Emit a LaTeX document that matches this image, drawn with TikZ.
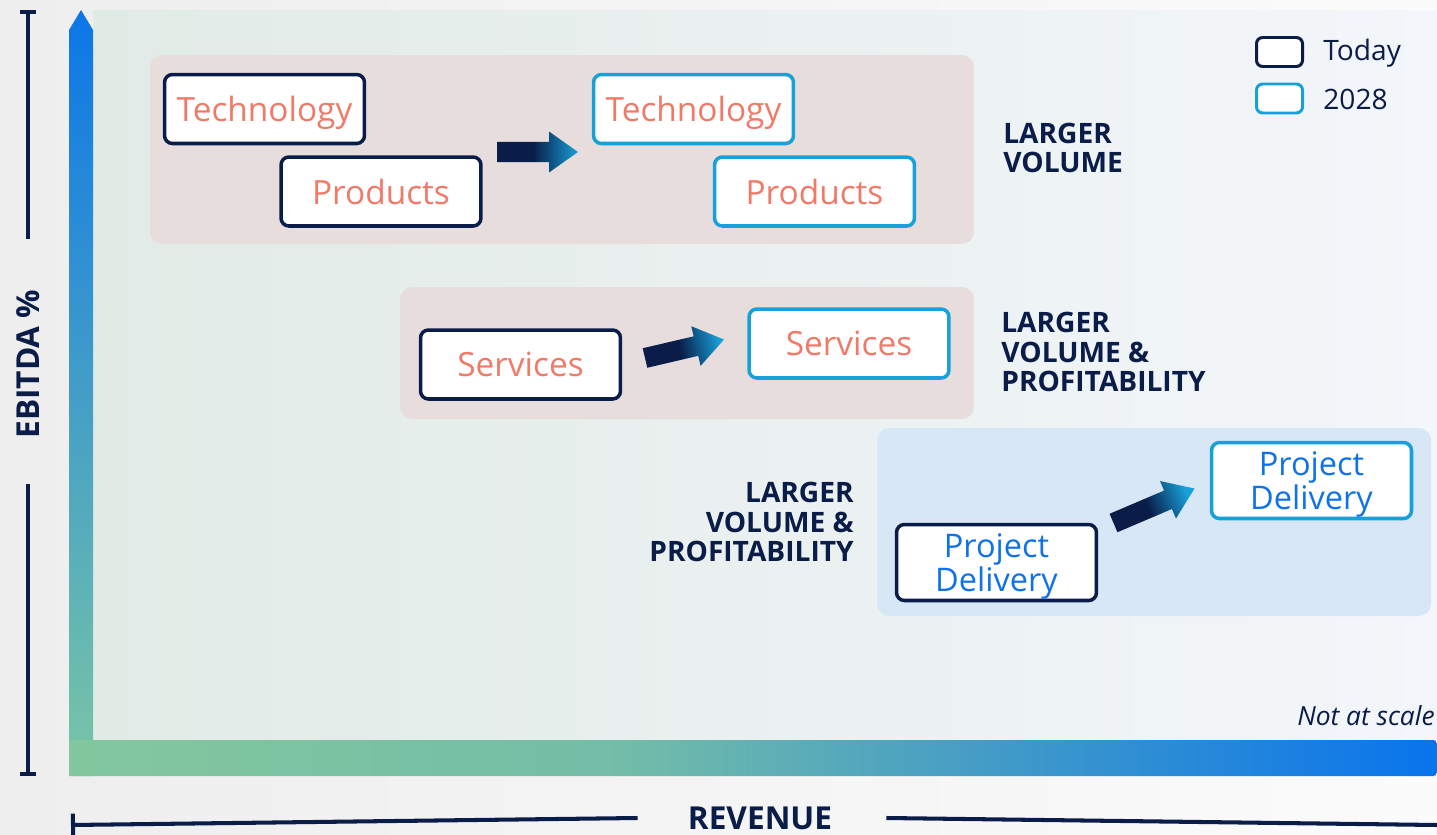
\documentclass[tikz,border=0pt]{standalone}
\usepackage{fontspec}
\setmainfont{Open Sans}
\usetikzlibrary{calc,arrows.meta}

\definecolor{navy}{RGB}{10,28,72}
\definecolor{cyanb}{RGB}{24,160,216}
\definecolor{salmon}{RGB}{240,122,104}
\definecolor{pdblue}{RGB}{16,114,232}
\definecolor{pinkpanel}{RGB}{231,221,221}
\definecolor{bluepanel}{RGB}{216,231,246}
\definecolor{axgreen}{RGB}{130,199,158}
\definecolor{axblue}{RGB}{8,116,236}
\definecolor{ybartop}{RGB}{12,118,232}
\definecolor{ybarbottom}{RGB}{122,198,166}
\definecolor{bgleft}{RGB}{238,238,238}
\definecolor{bgright}{RGB}{251,251,251}
\definecolor{panelleft}{RGB}{225,235,230}
\definecolor{panelright}{RGB}{243,246,250}
\colorlet{axmid}{axgreen!88!axblue}

\pgfdeclarehorizontalshading{xbarshade}{100bp}{color(0bp)=(axgreen); color(25bp)=(axgreen); color(45bp)=(axmid); color(75bp)=(axblue); color(100bp)=(axblue)}
\pgfdeclarehorizontalshading{arrowshade}{100bp}{color(0bp)=(navy); color(25bp)=(navy); color(47bp)=(navy); color(75bp)=(cyanb); color(100bp)=(cyanb)}

\tikzset{
	todaybox/.style={draw=navy, line width=2pt, rounded corners=4.5pt, fill=white, minimum width=4cm, minimum height=1.38cm, inner sep=0pt, text depth=0pt, font=\fontsize{19}{20}\selectfont},
	futurebox/.style={todaybox, draw=cyanb},
	pdbox/.style={text=pdblue, align=center, minimum height=1.52cm, font=\fontsize{18.5}{19.5}\selectfont},
	pinkband/.style={fill=pinkpanel, rounded corners=7pt},
	blueband/.style={fill=bluepanel, rounded corners=7pt},
	tag/.style={font=\bfseries\fontsize{16}{17}\selectfont, text=navy, inner sep=0pt},
	legbox/.style={line width=1.7pt, rounded corners=3.5pt, fill=white, minimum width=0.92cm, minimum height=0.58cm, inner sep=0pt},
	legtext/.style={font=\fontsize{16}{17}\selectfont, text=navy, inner sep=0pt, anchor=west},
	axislabel/.style={font=\bfseries\fontsize{18}{18}\selectfont, text=navy, inner sep=0pt},
	axisline/.style={draw=navy, line width=2.3pt},
}

% fat shaded arrow from #1 to #2, shading turned by #3
\newcommand{\gradarrow}[3]{%
	\coordinate (#1b) at ($(#2)!16.4pt!(#1)$);
	\shade[shading=arrowshade, shading angle=#3]
		($(#1)!5.7pt!90:(#2)$) -- ($(#1b)!5.7pt!90:(#2)$) -- ($(#1b)!11.6pt!90:(#2)$) -- (#2)
		-- ($(#1b)!11.6pt!-90:(#2)$) -- ($(#1b)!5.7pt!-90:(#2)$) -- ($(#1)!5.7pt!-90:(#2)$) -- cycle;}

\begin{document}
\begin{tikzpicture}[x=0.02cm, y=-0.02cm]
	\useasboundingbox (0,0) rectangle (1437,835);
	\shade[left color=bgleft, right color=bgright]		(0,0) rectangle (1437,835);
	\shade[left color=panelleft, right color=panelright]	(93,10) rectangle (1437,740);

	% bands
	\fill[pinkband]		(150,55) rectangle (974,244);
	\fill[pinkband]		(400,287) rectangle (974,419);
	\fill[blueband]		(877,428) rectangle (1431,616);

	% axis bars
	\shade[top color=ybartop, bottom color=ybarbottom]	(69,776) -- (69,30) -- (81,10) -- (93,30) -- (93,776) -- cycle;
	\shade[shading=xbarshade, rounded corners=2pt]		(69,740) rectangle (1437,776);

	% boxes
	\node[todaybox, text=salmon]		(tech0) at (264.5,109) {Technology};
	\node[todaybox, text=salmon]		(prod0) at (381,191.5) {Products};
	\node[futurebox, text=salmon]		(tech1) at (693.5,109) {Technology};
	\node[futurebox, text=salmon]		(prod1) at (814.5,191.5) {Products};
	\node[todaybox, text=salmon]		(serv0) at (520.5,364.5) {Services};
	\node[futurebox, text=salmon]		(serv1) at (849,343.5) {Services};
	\node[todaybox, pdbox]			(proj0) at (996.5,562.5) {Project\\Delivery};
	\node[futurebox, pdbox]			(proj1) at (1311.5,480.5) {Project\\Delivery};

	% arrows
	\coordinate (a1s) at (497,152);		\coordinate (a1e) at (578,152);
	\coordinate (a2s) at (645,358);		\coordinate (a2e) at (724,339.5);
	\coordinate (a3s) at (1113.5,523);	\coordinate (a3e) at (1194.5,488.5);
	\gradarrow{a1s}{a1e}{0}
	\gradarrow{a2s}{a2e}{13}
	\gradarrow{a3s}{a3e}{23}

	% tags
	\node[tag, anchor=west, align=left]		(vol) at (1003,148) {LARGER\\VOLUME};
	\node[tag, anchor=west, align=left]		(volprof) at (1001,352) {LARGER\\VOLUME \&\\PROFITABILITY};
	\node[tag, anchor=east, align=right]	(volprofpd) at (854,522) {LARGER\\VOLUME \&\\PROFITABILITY};

	% legend
	\node[legbox, draw=navy]		(legtoday) at (1279.5,52) {};
	\node[legbox, draw=cyanb]		(legnew) at (1279.5,98.5) {};
	\node[legtext]				(legtodaytxt) at (1323,53) {Today};
	\node[legtext]				(legnewtxt) at (1323,99) {2028};

	\node[font=\itshape\fontsize{15}{16}\selectfont, text=navy, anchor=east, inner sep=0pt]	(noscale) at (1435,716) {Not at scale};

	% axis labels and lines
	\node[axislabel, rotate=90]		(ebitda) at (28,364) {EBITDA \%};
	\node[axislabel]				(revenue) at (760,818) {REVENUE};
	\coordinate (ytop) at (28,10);		\coordinate (ybot) at (28,776);
	\coordinate (xleft) at (71,825);		\coordinate (xright) at (1437,825);
	\draw[axisline, {Bar[width=9pt]}-]		(ytop) -- ($(ebitda.east)+(0,-50)$);
	\draw[axisline, -{Bar[width=9pt]}]		($(ebitda.west)+(0,45)$) -- (ybot);
	\draw[axisline, {Bar[width=13pt]}-]		(xleft) -- ($(revenue.west)+(-50,0)$);
	\draw[axisline]					($(revenue.east)+(54,0)$) -- (xright);
\end{tikzpicture}
\end{document}
